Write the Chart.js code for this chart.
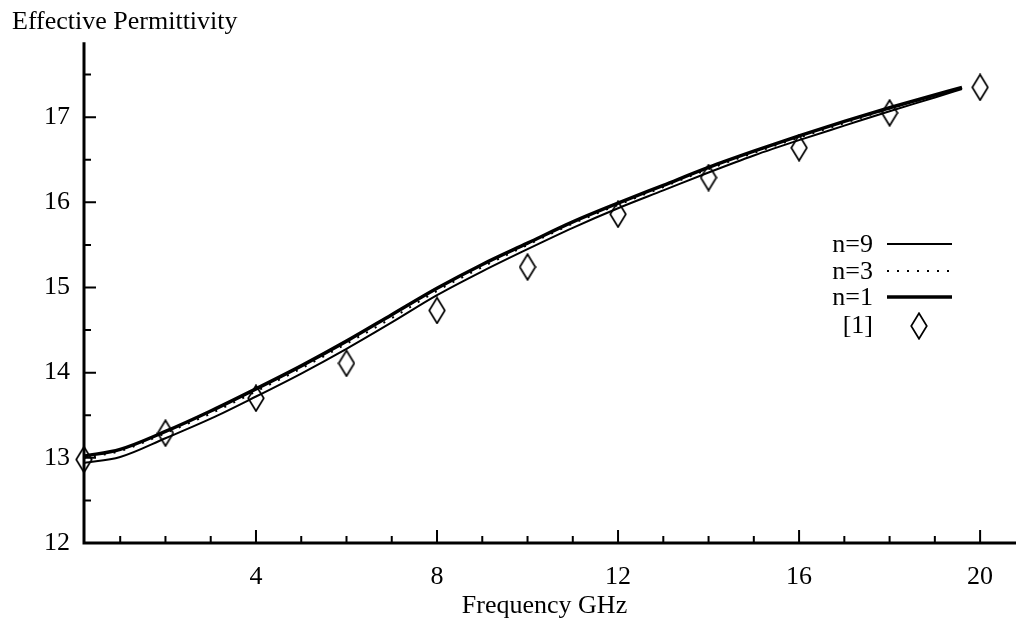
<!DOCTYPE html>
<html>
<head>
<meta charset="utf-8">
<script src="https://cdn.jsdelivr.net/npm/chart.js@4/dist/chart.umd.min.js"></script>
<style>
html,body{margin:0;padding:0;background:#fff;overflow:hidden;}
canvas{display:block;}
</style>
</head>
<body>
<canvas id="c" width="1016" height="622"></canvas>
<script>
// ---- data ----
const freqs = [0.2, 1, 2, 3, 4, 5, 6, 7, 8, 9, 10, 11, 12, 13, 14, 15, 16, 17, 18, 19, 19.6];
const n9 = [12.94, 13.01, 13.23, 13.46, 13.72, 13.99, 14.28, 14.59, 14.91, 15.19, 15.45, 15.70, 15.93, 16.14, 16.35, 16.55, 16.73, 16.90, 17.07, 17.23, 17.33];
const n3 = [13.00, 13.08, 13.29, 13.52, 13.78, 14.05, 14.34, 14.64, 14.96, 15.24, 15.50, 15.75, 15.97, 16.18, 16.39, 16.58, 16.76, 16.93, 17.10, 17.25, 17.34];
const n1 = [13.02, 13.10, 13.31, 13.55, 13.81, 14.08, 14.37, 14.68, 14.99, 15.27, 15.52, 15.77, 15.99, 16.20, 16.41, 16.60, 16.78, 16.95, 17.11, 17.26, 17.35];
const refFreqs = [0.2, 2, 4, 6, 8, 10, 12, 14, 16, 18, 20];
const refVals = [12.98, 13.29, 13.70, 14.11, 14.73, 15.24, 15.86, 16.29, 16.64, 17.05, 17.35];
const xTickLabels = [4, 8, 12, 16, 20];
const yTickLabels = [12, 13, 14, 15, 16, 17];
const seriesLabels = ['n=9', 'n=3', 'n=1', '[1]'];
const xTitle = 'Frequency GHz';
const yTitle = 'Effective Permittivity';

const FONT = '"Liberation Serif", "Times New Roman", serif';
const FS = 26;

function pts(xs, ys){ return xs.map((x,i)=>({x:x, y:ys[i]})); }

const diamond = document.createElement('canvas');
diamond.width = 18; diamond.height = 28;
(function(){
  const g = diamond.getContext('2d');
  g.strokeStyle = '#000'; g.lineWidth = 1.7;
  g.beginPath();
  g.moveTo(9,1.2); g.lineTo(16.8,14); g.lineTo(9,26.8); g.lineTo(1.2,14); g.closePath();
  g.stroke();
})();

const axesPlugin = {
  id: 'axesPlugin',
  afterDraw(chart){
    const {ctx, chartArea:a, scales:{x, y}} = chart;
    ctx.save();
    ctx.strokeStyle = '#000';
    ctx.lineWidth = 3;
    ctx.beginPath();
    ctx.moveTo(a.left, a.top); ctx.lineTo(a.left, a.bottom); ctx.lineTo(chart.width, a.bottom);
    ctx.stroke();
    ctx.lineWidth = 2;
    ctx.beginPath();
    for (let v = 1; v <= 20; v++) {
      const px = x.getPixelForValue(v);
      const len = (v % 4 === 0) ? 13 : 7;
      ctx.moveTo(px, a.bottom); ctx.lineTo(px, a.bottom - len);
    }
    for (let v = 12.5; v <= 17.5; v += 0.5) {
      const py = y.getPixelForValue(v);
      const len = (Math.abs(v - Math.round(v)) < 1e-6) ? 12 : 7;
      ctx.moveTo(a.left, py); ctx.lineTo(a.left + len, py);
    }
    ctx.stroke();

    const rows = [244, 271, 297, 325];
    ctx.font = FS + 'px ' + FONT;
    ctx.fillStyle = '#000';
    ctx.textAlign = 'right';
    ctx.textBaseline = 'middle';
    chart.data.datasets.forEach((ds, i) => {
      const yy = rows[i];
      ctx.fillText(ds.label, 873, yy + 1);
      if (ds.showLine === false) {
        ctx.drawImage(diamond, Math.round(919 - diamond.width/2), Math.round(yy + 1 - diamond.height/2));
      } else {
        ctx.save();
        ctx.lineWidth = ds.borderWidth;
        ctx.setLineDash(ds.borderDash || []);
        ctx.beginPath();
        ctx.moveTo(887, yy); ctx.lineTo(952, yy);
        ctx.stroke();
        ctx.restore();
      }
    });
    ctx.restore();
  }
};

new Chart(document.getElementById('c'), {
  type: 'line',
  data: {
    datasets: [
      { label: seriesLabels[0], data: pts(freqs, n9), borderColor:'#000', borderWidth: 2, pointRadius: 0, cubicInterpolationMode:'monotone', fill:false },
      { label: seriesLabels[1], data: pts(freqs, n3), borderColor:'#000', borderWidth: 2, borderDash:[2,8], pointRadius: 0, cubicInterpolationMode:'monotone', fill:false },
      { label: seriesLabels[2], data: pts(freqs, n1), borderColor:'#000', borderWidth: 3.5, pointRadius: 0, cubicInterpolationMode:'monotone', fill:false },
      { label: seriesLabels[3], data: pts(refFreqs, refVals), showLine:false, pointStyle: diamond, pointRadius: 10, clip: false }
    ]
  },
  options: {
    responsive: false,
    animation: false,
    layout: { padding: { left: 12, top: 0, right: 0, bottom: 0 } },
    plugins: {
      legend: { display: false },
      tooltip: { enabled: false },
      title: {
        display: true, text: yTitle, align: 'start', color:'#000',
        font: { family: FONT, size: FS, weight: 'normal', lineHeight: 1.2 },
        padding: { top: 7, bottom: 4 }
      }
    },
    scales: {
      x: {
        type: 'linear', min: 0.2, max: 20.55,
        grid: { display: false, drawTicks: false },
        border: { display: false },
        ticks: {
          stepSize: 4, includeBounds: false, color:'#000', padding: 19, maxRotation: 0,
          font: { family: FONT, size: FS },
          callback: (v) => xTickLabels.includes(v) ? String(v) : ''
        },
        title: { display: true, text: xTitle, color:'#000', font: { family: FONT, size: FS }, padding: { top: 0, bottom: 0 } },
        afterFit: (s) => { s.height = 79; s.paddingRight = 0; s.paddingLeft = 0; }
      },
      y: {
        type: 'linear', min: 12, max: 17.88,
        grid: { display: false, drawTicks: false },
        border: { display: false },
        ticks: {
          stepSize: 1, includeBounds: false, color:'#000', padding: 14,
          font: { family: FONT, size: FS },
          callback: (v) => yTickLabels.includes(v) ? String(v) : ''
        },
        afterFit: (s) => { s.width = 72; s.paddingTop = 0; s.paddingBottom = 0; }
      }
    }
  },
  plugins: [axesPlugin]
});
</script>
</body>
</html>
